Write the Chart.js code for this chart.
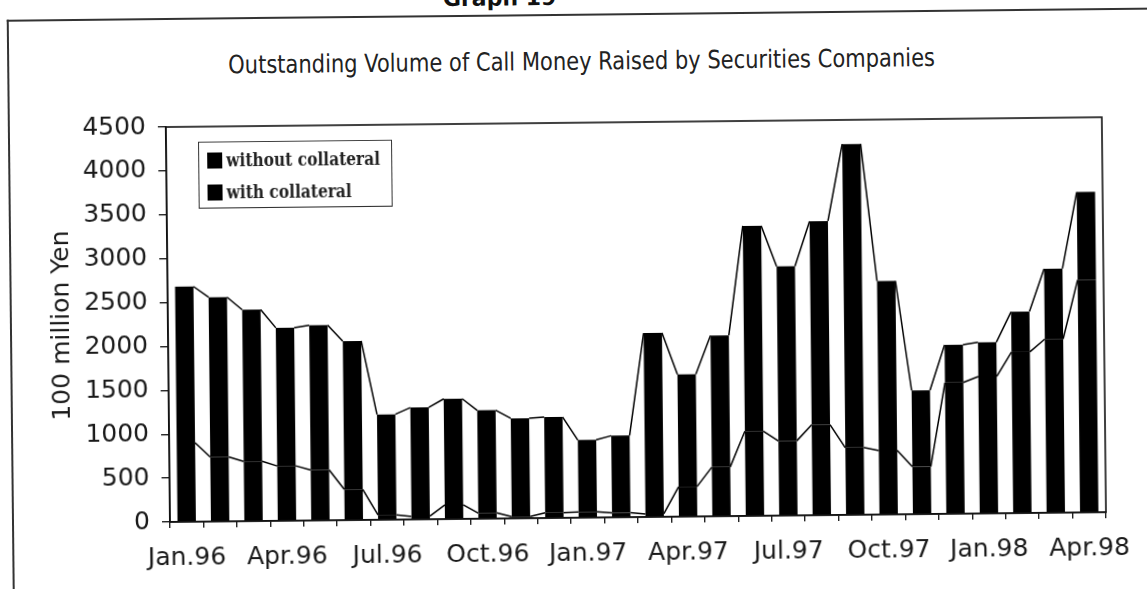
<!DOCTYPE html>
<html>
<head>
<meta charset="utf-8">
<script src="https://cdn.jsdelivr.net/npm/chart.js@4.4.1/dist/chart.umd.min.js"></script>
<style>
  html, body { margin: 0; padding: 0; background: #fff; overflow: hidden; }
  #page {
    position: absolute; left: 0; top: 0; width: 1147px; height: 589px;
    transform: rotate(-0.6deg); transform-origin: 170px 522px;
  }
  #frame {
    position: absolute; left: 12px; top: 18px; width: 1250px; height: 700px;
    border-top: 2px solid #333; border-left: 2px solid #333;
  }
  #graphno {
    position: absolute; left: 0; top: -9px; width: 1010px; text-align: center;
    font: bold 22px/22px "DejaVu Sans", sans-serif; color: #111;
  }
  #title {
    position: absolute; top: 53px; left: 0; white-space: nowrap;
    font: 25px/25px "DejaVu Sans Condensed", "DejaVu Sans", sans-serif; color: #222;
    transform-origin: left center;
  }
  canvas { position: absolute; left: 0; top: 0; }
  #legend {
    position: absolute; left: 202px; top: 142px; width: 192px; height: 65px;
    border: 1.5px solid #333; background: #fff;
  }
  #legend .sw { position: absolute; left: 8px; width: 15px; height: 16px; background: #000; }
  #legend .lb {
    position: absolute; left: 27px; white-space: nowrap; transform-origin: left center;
    font: bold 18px/20px "DejaVu Serif", serif; color: #222;
  }
</style>
</head>
<body>
<div id="page">
  <div id="frame"></div>
  <div id="graphno">Graph 19</div>
  <div id="title">Outstanding Volume of Call Money Raised by Securities Companies</div>
  <canvas id="chart" width="1147" height="589"></canvas>
  <div id="legend">
    <div class="sw" style="top:10px"></div><div class="lb" id="lb1" style="top:8px">without collateral</div>
    <div class="sw" style="top:42px"></div><div class="lb" id="lb2" style="top:40px">with collateral</div>
  </div>
</div>
<script>
const months = [
    'Jan.96', 'Feb.96', 'Mar.96', 'Apr.96', 'May.96', 'Jun.96', 'Jul.96', 'Aug.96', 'Sep.96', 'Oct.96', 'Nov.96', 'Dec.96',
    'Jan.97', 'Feb.97', 'Mar.97', 'Apr.97', 'May.97', 'Jun.97', 'Jul.97', 'Aug.97', 'Sep.97', 'Oct.97', 'Nov.97', 'Dec.97',
    'Jan.98', 'Feb.98', 'Mar.98', 'Apr.98'
];
// 100 million yen
const withoutCollateral = [900, 735, 680, 625, 575, 350, 55, 35, 160, 65, 20, 60,
    65, 50, 35, 340, 560, 965, 850, 1030, 765, 730, 540, 1495, 1560, 1835, 1980, 2650];
const withCollateral = [1780, 1820, 1730, 1575, 1650, 1690, 1145, 1240, 1210, 1170, 1120, 1090,
    820, 880, 2060, 1280, 1500, 2340, 1990, 2320, 3460, 1930, 870, 430, 390, 460, 800, 1000];
const seriesNames = ['without collateral', 'with collateral'];
const yMax = 4500;
const yStep = 500;

const axisFont = { family: 'DejaVu Sans', size: 25 };
const ink = '#1a1a1a';

// Excel-style series lines: join the top corners of neighbouring bar segments
const seriesLines = {
    id: 'seriesLines',
    afterDatasetsDraw(chart) {
        const ctx = chart.ctx;
        ctx.save();
        ctx.strokeStyle = '#000';
        ctx.lineWidth = 1.5;
        chart.data.datasets.forEach((ds, di) => {
            const bars = chart.getDatasetMeta(di).data;
            ctx.beginPath();
            for (let i = 0; i < bars.length - 1; i++) {
                const a = bars[i], b = bars[i + 1];
                ctx.moveTo(a.x + a.width / 2, a.y);
                ctx.lineTo(b.x - b.width / 2, b.y);
            }
            ctx.stroke();
        });
        ctx.restore();
    }
};

const plotBorder = {
    id: 'plotBorder',
    afterDraw(chart) {
        const { ctx, chartArea: a } = chart;
        ctx.save();
        ctx.strokeStyle = '#111';
        ctx.lineWidth = 1.6;
        ctx.strokeRect(a.left, a.top, a.right - a.left, a.bottom - a.top);
        ctx.restore();
    }
};

new Chart(document.getElementById('chart'), {
    type: 'bar',
    data: {
        labels: months,
        datasets: [
            { label: seriesNames[0], data: withoutCollateral, backgroundColor: '#000', borderWidth: 0,
              barPercentage: 0.55, categoryPercentage: 1 },
            { label: seriesNames[1], data: withCollateral, backgroundColor: '#000', borderWidth: 0,
              barPercentage: 0.55, categoryPercentage: 1 },
        ],
    },
    options: {
        responsive: false,
        animation: false,
        devicePixelRatio: 1,
        layout: { padding: { top: 127, right: 41, left: 0, bottom: 0 } },
        plugins: { legend: { display: false }, tooltip: { enabled: false }, title: { display: false } },
        scales: {
            x: {
                stacked: true,
                grid: { drawOnChartArea: false, tickLength: 6, color: '#222', lineWidth: 1.4 },
                border: { color: '#111', width: 1.6 },
                ticks: {
                    autoSkip: false, maxRotation: 0, padding: 15, font: axisFont, color: ink,
                    callback: (v, i) => (i % 3 === 0 ? months[i] : ''),
                },
                afterFit: s => { s.height = 67; },
            },
            y: {
                stacked: true,
                min: 0,
                max: yMax,
                grid: { drawOnChartArea: false, tickLength: 8, color: '#222', lineWidth: 1.4 },
                border: { color: '#111', width: 1.6 },
                ticks: { stepSize: yStep, padding: 12, font: axisFont, color: ink, callback: v => String(v) },
                title: {
                    display: true, text: '100 million Yen', color: ink,
                    font: { family: 'DejaVu Sans', size: 25 }, padding: { top: 49, bottom: 0 },
                },
                afterFit: s => { s.width = 170; },
            },
        },
    },
    plugins: [seriesLines, plotBorder],
});

// squeeze the narrow title and legend fonts to the widths seen in the picture
function fitWidth(el, target) {
    const w = el.getBoundingClientRect().width;
    const s = target / w;
    el.style.transform = `scaleX(${s})`;
    return s;
}
const title = document.getElementById('title');
fitWidth(title, 707);
title.style.left = (586 - 707 / 2) + 'px';
const s = fitWidth(document.getElementById('lb1'), 154);
document.getElementById('lb2').style.transform = `scaleX(${s})`;
</script>
</body>
</html>
